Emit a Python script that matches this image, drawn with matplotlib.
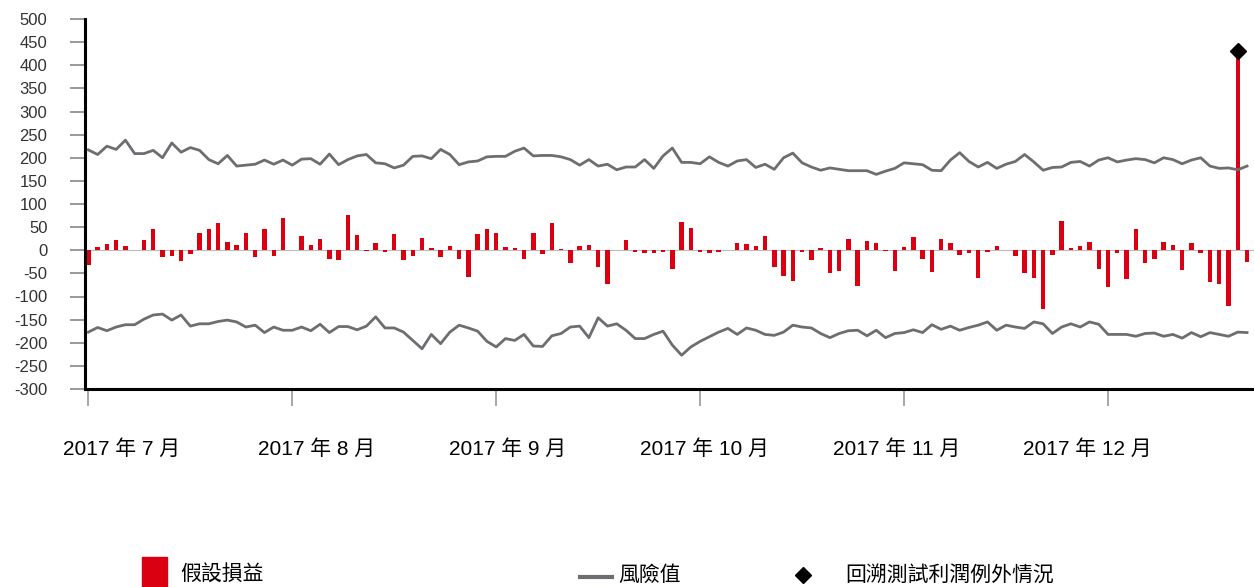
import numpy as np
import matplotlib.pyplot as plt
from matplotlib.patches import Rectangle
from matplotlib.lines import Line2D

plt.rcParams['font.family'] = ['Liberation Sans', 'Noto Sans CJK TC', 'DejaVu Sans']
plt.rcParams['axes.unicode_minus'] = False

# daily hypothetical P&L (HK$m), one per trading day Jul-Dec 2017
pnl = [-32, 6, 14, 22, 9, 1, 23, 46, -14, -13,
       -24, -8, 37, 45, 59, 17, 12, 37, -14, 45,
       -12, 70, 0, 30, 11, 25, -18, -20, 76, 34,
       -1, 15, -4, 36, -20, -12, 27, 4, -14, 10,
       -18, -57, 35, 47, 37, 6, 4, -18, 37, -9,
       60, 2, -27, 9, 11, -36, -74, 0, 22, -4,
       -5, -6, -4, -41, 62, 48, -4, -5, -4, 0,
       15, 13, 9, 30, -36, -56, -66, -4, -22, 4,
       -50, -45, 24, -78, 19, 16, -2, -45, 6, 28,
       -18, -47, 25, 16, -10, -7, -61, -4, 10, 1,
       -12, -49, -60, -126, -10, 63, 5, 10, 18, -41,
       -79, -6, -63, 46, -27, -18, 18, 12, -43, 16,
       -5, -68, -74, -121, 430, -26]

var_upper = [217, 207, 225, 218, 238, 209, 209, 216, 200, 232,
             212, 222, 216, 196, 187, 205, 182, 184, 186, 195,
             186, 195, 184, 197, 198, 186, 208, 185, 196, 204,
             207, 189, 187, 178, 184, 203, 204, 198, 218, 207,
             185, 191, 193, 202, 203, 203, 214, 221, 204, 205,
             205, 202, 196, 184, 196, 182, 186, 174, 180, 180,
             196, 177, 204, 221, 190, 190, 187, 202, 190, 182,
             193, 196, 179, 186, 175, 200, 210, 189, 180, 173,
             178, 175, 172, 172, 172, 164, 171, 177, 189, 187,
             185, 173, 172, 195, 211, 192, 180, 190, 177, 186,
             192, 207, 191, 173, 179, 180, 190, 192, 182, 195,
             200, 191, 195, 198, 196, 189, 200, 196, 187, 195,
             200, 182, 177, 178, 174, 182]

var_lower = [-177, -167, -174, -166, -161, -161, -149, -140, -138, -151,
             -140, -164, -159, -159, -154, -151, -155, -166, -162, -178,
             -166, -173, -173, -166, -174, -160, -178, -165, -165, -172,
             -164, -144, -168, -168, -177, -195, -213, -182, -202, -177,
             -162, -168, -175, -197, -209, -191, -195, -182, -207, -208,
             -185, -180, -166, -164, -189, -146, -164, -159, -173, -191,
             -191, -182, -175, -205, -227, -209, -197, -187, -177, -169,
             -182, -168, -173, -182, -184, -177, -162, -166, -168, -180,
             -189, -180, -174, -173, -185, -173, -189, -180, -178, -172,
             -178, -161, -171, -164, -173, -167, -162, -155, -173, -162,
             -166, -169, -155, -159, -180, -166, -159, -166, -155, -160,
             -182, -182, -182, -186, -180, -179, -186, -182, -190, -178,
             -187, -178, -182, -186, -177, -178]

exception_day = 124
month_ticks = [0, 22, 44, 66, 88, 110]
month_label_pos = [3.6, 24.6, 45.2, 66.5, 87.2, 107.8]
month_labels = ['2017 年 7 月', '2017 年 8 月', '2017 年 9 月',
                '2017 年 10 月', '2017 年 11 月', '2017 年 12 月']

red = '#DB0011'
grey = '#6D6E71'

W, H = 1254, 587
fig = plt.figure(figsize=(W / 100, H / 100), dpi=100)
ax = fig.add_axes([85 / W, 1 - 389 / H, 1169 / W, 370 / H])

x = np.arange(len(pnl))
ax.axhline(0, color='#BBBBBB', lw=0.8, zorder=1)
ax.bar(x, pnl, width=0.48, color=red, zorder=2)
ax.plot(x, var_upper, color=grey, lw=2, zorder=3)
ax.plot(x, var_lower, color=grey, lw=2, zorder=3)
ax.plot(x[exception_day], pnl[exception_day], marker='D', color='black',
        markersize=8.5, zorder=4)

ax.set_xlim(-0.36, 125.75)
ax.set_ylim(-300, 500)
ax.set_yticks(np.arange(-300, 501, 50))
ax.tick_params(axis='y', length=11, width=1.2, color='#888888', pad=16,
               labelsize=12, labelcolor='#333333')

ax.set_xticks(month_ticks)
ax.set_xticklabels([])
ax.tick_params(axis='x', which='major', length=12, width=1.2, color='#999999')
ax.set_xticks(month_label_pos, minor=True)
ax.set_xticklabels(month_labels, minor=True)
ax.tick_params(axis='x', which='minor', length=0, pad=36, labelsize=15,
               labelcolor='black')

for s in ['top', 'right']:
    ax.spines[s].set_visible(False)
for s in ['left', 'bottom']:
    ax.spines[s].set_linewidth(2.2)
    ax.spines[s].set_color('black')

# legend drawn by hand to match the spacing
fig.add_artist(Rectangle((142 / W, 0), 25 / W, 30 / H, color=red,
                         transform=fig.transFigure))
fig.text(180 / W, 1 - 575 / H, '假設損益', fontsize=15, va='center')
fig.add_artist(Line2D([580 / W, 612 / W], [1 - 577 / H] * 2, color=grey, lw=3,
                      transform=fig.transFigure))
fig.text(618 / W, 1 - 575 / H, '風險值', fontsize=15, va='center')
fig.add_artist(Line2D([803 / W], [1 - 575 / H], marker='D', color='black',
                      markersize=8, transform=fig.transFigure))
fig.text(845 / W, 1 - 575 / H, '回溯測試利潤例外情況', fontsize=15, va='center')

fig.savefig('out.png', dpi=100)
